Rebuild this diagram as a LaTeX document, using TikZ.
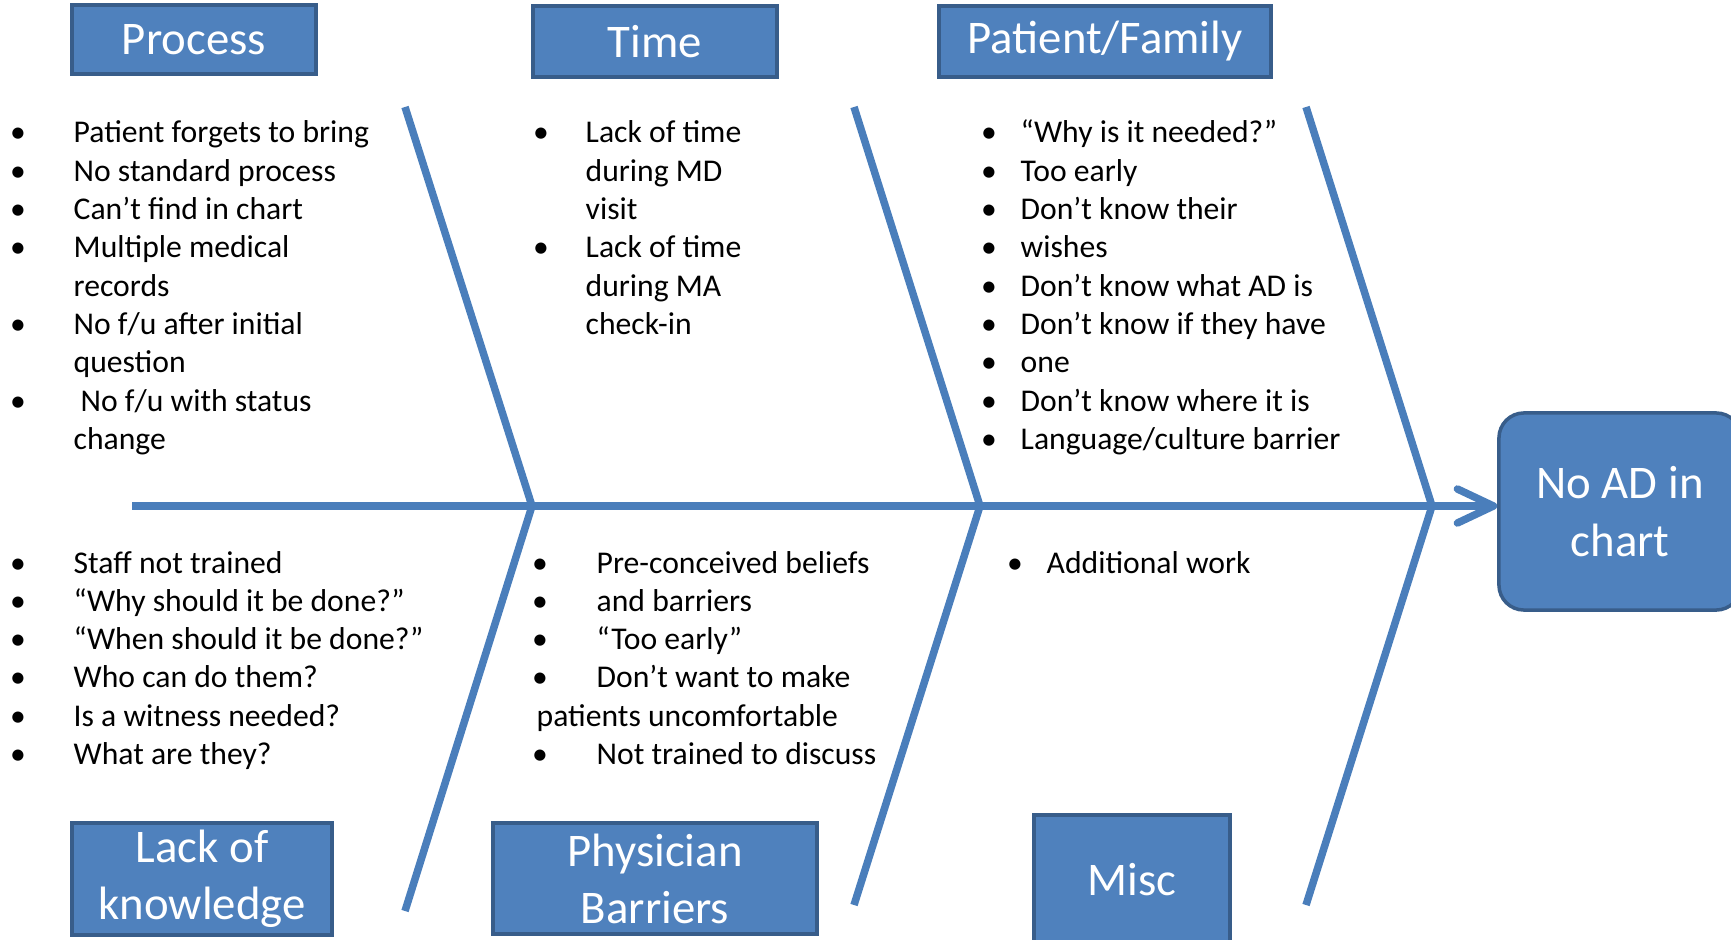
\documentclass[tikz,border=0pt]{standalone}
\usepackage{fontspec}
\setmainfont{Carlito}
\usepackage{tikz}
\usetikzlibrary{arrows.meta}
\definecolor{catfill}{HTML}{4F81BD}
\definecolor{catline}{HTML}{385D8A}
\definecolor{bonecol}{HTML}{4A7EBB}

\begin{document}
\begin{tikzpicture}[x=0.01cm,y=-0.01cm,
        cat/.style={draw=catline,line width=0.035cm,fill=catfill,text=white,inner sep=0pt,align=center,font=\fontsize{13.3}{16.2}\selectfont},
        bone/.style={draw=bonecol,line width=0.075cm},
        item/.style={anchor=base west,inner sep=0pt,font=\fontsize{9}{10.9}\selectfont},
        dot/.style={anchor=base,inner sep=0pt,font=\fontsize{9}{10.9}\selectfont}]
    \useasboundingbox (0,0) rectangle (1731,940);
    \node[cat,minimum width=2.44cm,minimum height=0.69cm] (process) at (194,39.5) {Process};
    \node[cat,minimum width=2.44cm,minimum height=0.71cm] (time) at (655,41.5) {Time};
    \node[cat,minimum width=3.32cm,minimum height=0.71cm] (family) at (1105,41.5) {Patient/Family};
    \node[cat,minimum width=2.60cm,minimum height=1.12cm] (knowledge) at (202,879) {Lack of\\knowledge};
    \node[cat,minimum width=3.24cm,minimum height=1.11cm] (physician) at (655,878.5) {Physician\\Barriers};
    \node[cat,minimum width=1.96cm,minimum height=1.30cm] (misc) at (1132,880) {Misc};
    \node[cat,rounded corners=0.25cm,minimum width=2.42cm,minimum height=1.97cm,font=\fontsize{13.3}{16.5}\selectfont] (effect) at (1620,511.5) {No AD in\\chart};

    \coordinate (tail) at (132,506);
    \foreach \p/\x/\y in {top1/405/107,mid1/532/506,bot1/405/911,top2/854/107,mid2/980/506,bot2/854/905,top3/1306/107,mid3/1432/506,bot3/1306/905} {
        \coordinate (\p) at (\x,\y);
    }
    \draw[bone,-{Straight Barb[length=0.36cm,width=0.34cm,round]}] (tail) -- (tail -| effect.west);
    \foreach \n in {1,2,3} {
        \draw[bone] (top\n) -- (mid\n);
        \draw[bone] (mid\n) -- (bot\n);
    }

    \foreach \t [count=\i] in {Patient forgets to bring,No standard process,Can’t find in chart,Multiple medical,records,No f/u after initial,question,{\hspace{0.07cm}No f/u with status},change} {
        \node[item] (proc\i) at (73,{143+(\i-1)*38.3}) {\t};
    }
    \foreach \i in {1,2,3,4,6,8} {
        \node[dot] (procdot\i) at (18,{143+(\i-1)*38.3}) {\textbullet};
    }

    \foreach \t [count=\i] in {Lack of time,during MD,visit,Lack of time,during MA,check-in} {
        \node[item] (time\i) at (585,{143+(\i-1)*38.3}) {\t};
    }
    \foreach \i in {1,4} {
        \node[dot] (timedot\i) at (541,{143+(\i-1)*38.3}) {\textbullet};
    }

    \foreach \t [count=\i] in {“Why is it needed?”,Too early,Don’t know their,wishes,Don’t know what AD is,Don’t know if they have,one,Don’t know where it is,Language/culture barrier} {
        \node[item] (fam\i) at (1020,{143+(\i-1)*38.3}) {\t};
        \node[dot] (famdot\i) at (989,{143+(\i-1)*38.3}) {\textbullet};
    }

    \foreach \t [count=\i] in {Staff not trained,“Why should it be done?”,“When should it be done?”,Who can do them?,Is a witness needed?,What are they?} {
        \node[item] (know\i) at (73,{573+(\i-1)*38.3}) {\t};
        \node[dot] (knowdot\i) at (18,{573+(\i-1)*38.3}) {\textbullet};
    }

    \foreach \x/\t [count=\i] in {596/Pre-conceived beliefs,596/and barriers,596/“Too early”,596/Don’t want to make,536/patients uncomfortable,596/Not trained to discuss} {
        \node[item] (phys\i) at (\x,{573+(\i-1)*38.3}) {\t};
    }
    \foreach \i in {1,2,3,4,6} {
        \node[dot] (physdot\i) at (540,{573+(\i-1)*38.3}) {\textbullet};
    }

    \node[item] (misc1) at (1046,573) {Additional work};
    \node[dot] (miscdot1) at (1015,573) {\textbullet};
\end{tikzpicture}
\end{document}
